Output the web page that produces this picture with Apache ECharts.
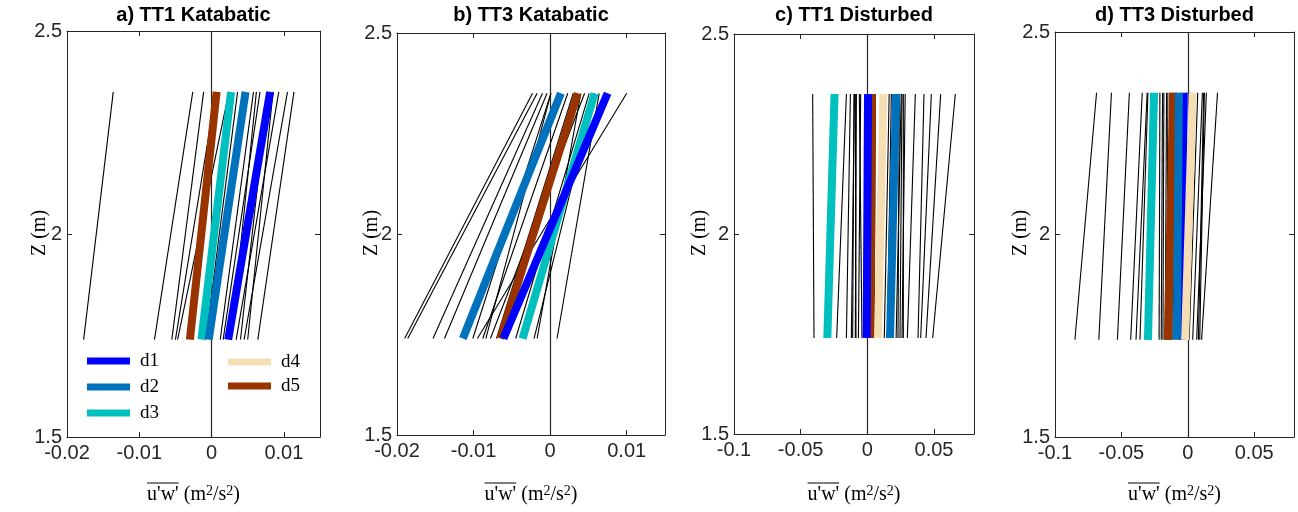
<!DOCTYPE html>
<html>
<head>
<meta charset="utf-8">
<script src="https://cdn.jsdelivr.net/npm/echarts@6/dist/echarts.min.js"></script>
<style>
  html, body { margin: 0; padding: 0; background: #fff; }
  #chart { width: 1298px; height: 512px; }
</style>
</head>
<body>
<div id="chart"></div>
<script>
// Heights (m) at which every fitted u'w' profile is evaluated
const heights = [1.74, 2.35];

// Daily mean profiles
const dayNames = ['d1', 'd2', 'd3', 'd4', 'd5'];

// a) TT1 katabatic: individual profiles (value at lower / upper height)
const tt1KatThinBottom = [-0.0177, -0.0079, -0.0055, -0.0050, -0.0047, -0.0008, 0.0012, 0.0016, 0.0027, 0.0034, 0.0040, 0.0045, 0.0050, 0.0064];
const tt1KatThinTop    = [-0.0136, -0.0026, -0.0011, 0.0006, 0.0024, 0.0036, 0.0058, 0.0067, 0.0062, 0.0093, 0.0078, 0.0105, 0.0085, 0.0114];
const tt1KatDayBottom  = [0.0023, -0.0004, -0.0014, null, -0.0030];
const tt1KatDayTop     = [0.0081, 0.0047, 0.0027, null, 0.0007];

// b) TT3 katabatic
const tt3KatThinBottom = [-0.0190, -0.0186, -0.0153, -0.0138, -0.0101, -0.0095, -0.0088, -0.0084, -0.0078, -0.0070, -0.0045, -0.0021, -0.0017, 0.0009];
const tt3KatThinTop    = [-0.0023, -0.0017, -0.0010, -0.0004, 0.0001, 0.0100, 0.0023, 0.0001, 0.0045, 0.0030, 0.0051, 0.0058, 0.0040, 0.0064];
const tt3KatDayBottom  = [-0.0061, -0.0114, -0.0036, null, -0.0065];
const tt3KatDayTop     = [0.0075, 0.0014, 0.0058, null, 0.0036];

// c) TT1 disturbed
const tt1DisThinBottom = [-0.040, -0.023, -0.0157, -0.012, -0.011, -0.009, -0.0085, -0.0067, -0.004, 0.002, 0.005, 0.0127, 0.015, 0.017, 0.019, 0.0216, 0.023, 0.0245, 0.026, 0.027, 0.030, 0.038, 0.040, 0.044, 0.049];
const tt1DisThinTop    = [-0.041, -0.0157, -0.0127, -0.0097, -0.010, -0.0082, -0.009, -0.005, -0.006, 0.003, 0.006, 0.0164, 0.018, 0.0195, 0.021, 0.0254, 0.024, 0.026, 0.0284, 0.027, 0.036, 0.0425, 0.048, 0.055, 0.066];
const tt1DisDayBottom  = [-0.0005, 0.017, -0.030, 0.008, 0.0025];
const tt1DisDayTop     = [0.0005, 0.0216, -0.0246, 0.012, 0.0035];

// d) TT3 disturbed
const tt3DisThinBottom = [-0.085, -0.067, -0.053, -0.043, -0.039, -0.036, -0.0216, -0.020, -0.0187, -0.017, -0.0157, -0.014, -0.013, -0.012, -0.011, -0.003, -0.001, 0.0005, 0.001, 0.0037, 0.0067, 0.008, 0.009, 0.0104];
const tt3DisThinTop    = [-0.0687, -0.0575, -0.044, -0.0343, -0.0306, -0.030, -0.021, -0.019, -0.018, -0.016, -0.015, -0.0135, -0.012, -0.011, -0.009, -0.001, 0.001, 0.002, 0.0075, 0.011, 0.014, 0.012, 0.0125, 0.0224];
const tt3DisDayBottom  = [-0.0045, -0.0082, -0.030, -0.002, -0.015];
const tt3DisDayTop     = [-0.003, -0.0067, -0.0254, 0.0037, -0.011];

// Panel titles and axis ranges / ticks
const panelTitles = ['a) TT1 Katabatic', 'b) TT3 Katabatic', 'c) TT1 Disturbed', 'd) TT3 Disturbed'];
const katRange = [-0.02, 0.015];
const disRange = [-0.1, 0.08];
const katTicks = [-0.02, -0.01, 0, 0.01];
const disTicks = [-0.1, -0.05, 0, 0.05];
const zRange = [1.5, 2.5];
const zTicks = [1.5, 2, 2.5];
const zAxisTitle = 'Z (m)';
const fluxSymbol = "u'w'";

const panels = [
  { thinB: tt1KatThinBottom, thinT: tt1KatThinTop, dayB: tt1KatDayBottom, dayT: tt1KatDayTop, range: katRange, ticks: katTicks },
  { thinB: tt3KatThinBottom, thinT: tt3KatThinTop, dayB: tt3KatDayBottom, dayT: tt3KatDayTop, range: katRange, ticks: katTicks },
  { thinB: tt1DisThinBottom, thinT: tt1DisThinTop, dayB: tt1DisDayBottom, dayT: tt1DisDayTop, range: disRange, ticks: disTicks },
  { thinB: tt3DisThinBottom, thinT: tt3DisThinTop, dayB: tt3DisDayBottom, dayT: tt3DisDayTop, range: disRange, ticks: disTicks }
];

// ---- styling / layout ----
const dayColors = ['#0000FF', '#0072BD', '#00BFBF', '#F5DEB3', '#993300'];
const dayDrawOrder = [4, 2, 0, 1, 3];
const gridBoxes = [
  { left: 67,   top: 31, width: 253, height: 406, ylabX: 40 },
  { left: 397,  top: 33, width: 268, height: 402, ylabX: 372 },
  { left: 734,  top: 34, width: 240, height: 400, ylabX: 700 },
  { left: 1055, top: 32, width: 239, height: 405, ylabX: 1021 }
];
const axisColor = '#262626';
const sansFont = '"Liberation Sans", Arial, sans-serif';
const serifFont = '"Liberation Serif", "Times New Roman", serif';
const nameSize = 20, supSize = 14;

const grids = [], xAxes = [], yAxes = [], series = [], graphics = [];

// widths of the flux axis title pieces, for centring and the overbar
const measureCtx = document.createElement('canvas').getContext('2d');
measureCtx.font = nameSize + 'px "Liberation Serif"';
const symbolW = measureCtx.measureText(fluxSymbol).width;
let fullNameW = measureCtx.measureText(fluxSymbol + ' (m/s)').width;
measureCtx.font = supSize + 'px "Liberation Serif"';
fullNameW += 2 * measureCtx.measureText('2').width;
const fluxRich = {
  n: { fontFamily: serifFont, fontSize: nameSize, color: '#000', lineHeight: 22, verticalAlign: 'middle' },
  s: { fontFamily: serifFont, fontSize: supSize, color: '#000', verticalAlign: 'top' }
};
const fluxText = '{n|' + fluxSymbol + ' (m}{s|2}{n|/s}{s|2}{n|)}';

panels.forEach((p, i) => {
  const g = gridBoxes[i];
  grids.push({ left: g.left, top: g.top, width: g.width, height: g.height, show: false, containLabel: false });

  const lineStyle = { color: axisColor, width: 1 };
  // bottom x axis with labels
  xAxes.push({
    type: 'value', gridIndex: i, position: 'bottom', min: p.range[0], max: p.range[1],
    axisLine: { show: true, onZero: false, lineStyle },
    axisTick: { show: true, inside: true, length: 5, lineStyle, customValues: p.ticks },
    axisLabel: { show: true, customValues: p.ticks, margin: 6, color: axisColor, fontFamily: sansFont, fontSize: 20 },
    splitLine: { show: false }
  });
  // top x axis (ticks only)
  xAxes.push({
    type: 'value', gridIndex: i, position: 'top', min: p.range[0], max: p.range[1],
    axisLine: { show: true, onZero: false, lineStyle },
    axisTick: { show: true, inside: true, length: 5, lineStyle, customValues: p.ticks },
    axisLabel: { show: false },
    splitLine: { show: false }
  });
  // left z axis with labels
  yAxes.push({
    type: 'value', gridIndex: i, position: 'left', min: zRange[0], max: zRange[1],
    axisLine: { show: true, onZero: false, lineStyle },
    axisTick: { show: true, inside: true, length: 5, lineStyle, customValues: zTicks },
    axisLabel: { show: true, customValues: zTicks, margin: 5, color: axisColor, fontFamily: sansFont, fontSize: 20 },
    splitLine: { show: false }
  });
  // right z axis (ticks only)
  yAxes.push({
    type: 'value', gridIndex: i, position: 'right', min: zRange[0], max: zRange[1],
    axisLine: { show: true, onZero: false, lineStyle },
    axisTick: { show: true, inside: true, length: 5, lineStyle, customValues: zTicks },
    axisLabel: { show: false },
    splitLine: { show: false }
  });

  // zero reference line
  series.push({
    type: 'line', xAxisIndex: 2 * i, yAxisIndex: 2 * i, data: [], silent: true, z: 1,
    markLine: {
      silent: true, symbol: 'none', z: 1, animation: false,
      label: { show: false },
      lineStyle: { color: axisColor, width: 1.2, type: 'solid' },
      data: [{ xAxis: 0 }]
    }
  });

  // individual profiles
  p.thinB.forEach((b, j) => {
    series.push({
      type: 'line', xAxisIndex: 2 * i, yAxisIndex: 2 * i, silent: true, z: 2,
      showSymbol: false, symbol: 'none',
      lineStyle: { color: '#000', width: 1.1 },
      data: [[b, heights[0]], [p.thinT[j], heights[1]]]
    });
  });

  // daily means
  dayDrawOrder.forEach(k => {
    if (p.dayB[k] === null) return;
    series.push({
      name: dayNames[k], type: 'line', xAxisIndex: 2 * i, yAxisIndex: 2 * i, silent: true, z: 3,
      showSymbol: false, symbol: 'none',
      itemStyle: { color: dayColors[k] },
      lineStyle: { color: dayColors[k], width: 8, cap: 'butt' },
      data: [[p.dayB[k], heights[0]], [p.dayT[k], heights[1]]]
    });
  });

  const cx = g.left + g.width / 2;
  // panel title
  graphics.push({
    type: 'text', x: cx, y: 15, silent: true,
    style: { text: panelTitles[i], fill: '#000', font: 'bold 20px ' + sansFont, textAlign: 'center', textVerticalAlign: 'middle' }
  });
  // z axis title
  graphics.push({
    type: 'text', x: g.ylabX, y: 233, rotation: Math.PI / 2, silent: true,
    style: { text: zAxisTitle, fill: '#000', font: '20px ' + serifFont, textAlign: 'center', textVerticalAlign: 'middle' }
  });
  // flux axis title with overbar on the covariance symbol
  const startX = cx - fullNameW / 2;
  graphics.push({
    type: 'text', x: startX, y: 495, silent: true,
    style: { text: fluxText, rich: fluxRich, textAlign: 'left', textVerticalAlign: 'middle' }
  });
  graphics.push({
    type: 'line', silent: true,
    shape: { x1: startX, y1: 483, x2: startX + symbolW, y2: 483 },
    style: { stroke: '#000', lineWidth: 1 }
  });
});

const legendText = { fontFamily: serifFont, fontSize: 19, color: '#000', lineHeight: 20, padding: [0, 0, 0, 5] };
const option = {
  animation: false,
  backgroundColor: '#fff',
  grid: grids,
  xAxis: xAxes,
  yAxis: yAxes,
  legend: [
    { data: dayNames.slice(0, 3), left: 82, top: 346, orient: 'vertical', icon: 'rect', itemWidth: 43, itemHeight: 7, itemGap: 6, selectedMode: false, textStyle: legendText },
    { data: dayNames.slice(3), left: 223, top: 347, orient: 'vertical', icon: 'rect', itemWidth: 43, itemHeight: 7, itemGap: 4, selectedMode: false, textStyle: legendText }
  ],
  series: series,
  graphic: graphics
};

const chart = echarts.init(document.getElementById('chart'), null, { renderer: 'canvas' });
chart.setOption(option);
</script>
</body>
</html>
